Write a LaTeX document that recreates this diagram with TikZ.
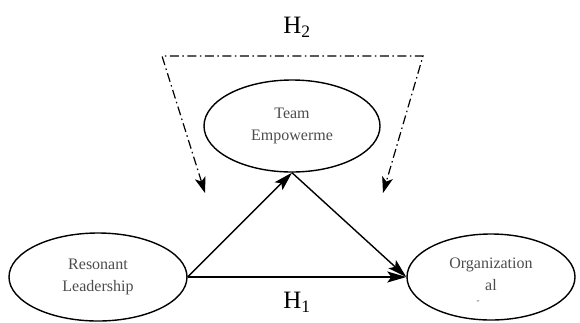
\documentclass[tikz,border=0pt]{standalone}
\usepackage{fontspec}
\setmainfont{Liberation Serif}
\usetikzlibrary{arrows.meta,shapes.geometric}
\begin{document}
\begin{tikzpicture}[x=1pt,y=-1pt,
  construct/.style={draw, line width=1.4pt, ellipse, inner sep=0pt, align=center,
    font=\fontsize{16}{22}\selectfont, text=black!70},
  arrowline/.style={line width=1.4pt, -{Stealth[length=19pt,width=11pt,inset=4pt]}},
  dd/.style={line width=1.2pt, dash pattern=on 9pt off 3.5pt on 1.5pt off 3.5pt,
    {Stealth[length=16pt,width=11pt,inset=4pt]}-{Stealth[length=16pt,width=11pt,inset=4pt]}},
  hyp/.style={font=\fontsize{25}{28}\selectfont},
  tiny/.style={font=\fontsize{9}{9}\selectfont, text=black!70, inner sep=0pt}]
\useasboundingbox (0,0) rectangle (580,322);
\node[construct, minimum width=176pt, minimum height=92pt] (team) at (292,126) {Team\\Empowerme};
\node[construct, minimum width=178pt, minimum height=88pt] (res) at (98,277) {Resonant\\Leadership};
\node[construct, minimum width=168pt, minimum height=86pt] (org) at (491,277) {\raisebox{5pt}{Organization}\\\raisebox{5pt}{al}};
\node[tiny] (orgdash) at (478,302) {-};
\draw[arrowline] (res.east) -- (team.south);
\draw[arrowline] (team.south) -- (org.west);
\draw[arrowline] (res.east) -- (org.west);
\coordinate (tl) at (162,56);
\coordinate (tr) at (423,56);
\coordinate (la) at (205,193);
\coordinate (ra) at (383,193);
\draw[dd] (la) -- (tl) -- (tr) -- (ra);
\node[hyp] (h2) at (297,27) {H\textsubscript{2}};
\node[hyp] (h1) at (297,302) {H\textsubscript{1}};
\end{tikzpicture}
\end{document}
